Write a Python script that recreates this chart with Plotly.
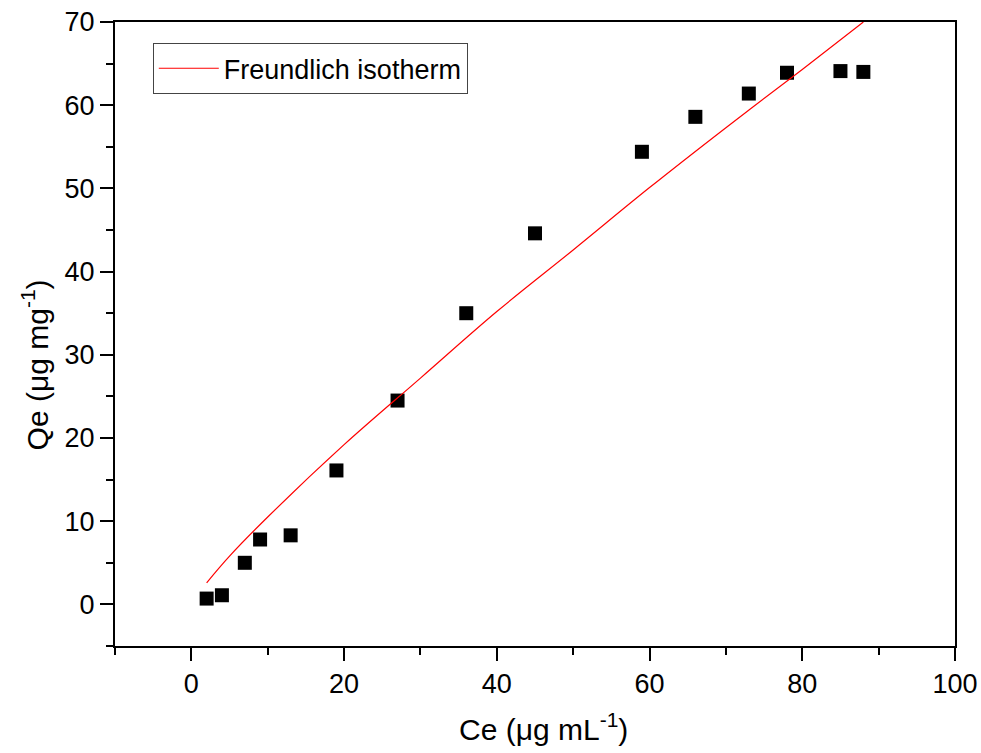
import plotly.graph_objects as go

# Measured equilibrium data
ce = [2, 4, 7, 9, 13, 19, 27, 36, 45, 59, 66, 73, 78, 85, 88]
qe = [0.7, 1.1, 5.0, 7.8, 8.3, 16.1, 24.5, 35.0, 44.6, 54.4, 58.6, 61.4, 63.9, 64.1, 64.0]

# Freundlich isotherm fit curve
fit_ce = [2, 5, 10, 20, 30, 40, 50, 60, 70, 80, 88]
fit_qe = [2.6, 5.8, 10.5, 19.2, 27.2, 35.2, 42.6, 50.1, 57.3, 64.3, 70.0]

FONT = "Arial, Liberation Sans, sans-serif"

fig = go.Figure()
fig.add_trace(go.Scatter(
    x=ce, y=qe, mode="markers", showlegend=False,
    marker=dict(symbol="square", size=14, color="black"),
))
fig.add_trace(go.Scatter(
    x=fit_ce, y=fit_qe, mode="lines", name="Freundlich isotherm",
    line=dict(color="red", width=1.2, shape="spline"),
))

L, R, T, B = 115, 26, 22, 107
fig.update_layout(
    width=981, height=753,
    margin=dict(l=L, r=R, t=T, b=B),
    paper_bgcolor="white", plot_bgcolor="white",
    font=dict(family=FONT, size=26, color="black"),
    legend=dict(
        x=0.045, y=0.966, xanchor="left", yanchor="top",
        bordercolor="#444", borderwidth=1, bgcolor="white",
        font=dict(size=27), itemwidth=60, tracegroupgap=0,
    ),
    xaxis=dict(
        range=[-10, 100], tickvals=[0, 20, 40, 60, 80, 100],
        ticks="outside", ticklen=13, tickwidth=2, tickcolor="black",
        minor=dict(tickvals=[-10, 10, 30, 50, 70, 90], ticks="outside",
                   ticklen=7, tickwidth=2, tickcolor="black"),
        showline=True, linewidth=2, linecolor="black", mirror=True,
        showgrid=False, zeroline=False, tickfont=dict(size=27),
        automargin=False,
    ),
    yaxis=dict(
        range=[-5, 70], tickvals=[0, 10, 20, 30, 40, 50, 60, 70],
        ticks="outside", ticklen=13, tickwidth=2, tickcolor="black",
        minor=dict(tickvals=[-5, 5, 15, 25, 35, 45, 55, 65], ticks="outside",
                   ticklen=7, tickwidth=2, tickcolor="black"),
        showline=True, linewidth=2, linecolor="black", mirror=True,
        showgrid=False, zeroline=False, tickfont=dict(size=27),
        automargin=False,
    ),
    annotations=[
        dict(text="Ce (\u03bcg mL<sup>-1</sup>)", xref="paper", yref="paper",
             x=0.51, y=-0.13, xanchor="center", yanchor="middle",
             showarrow=False, font=dict(size=30)),
        dict(text="Qe (\u03bcg mg<sup>-1</sup>)", xref="paper", yref="paper",
             x=-0.095, y=0.45, xanchor="center", yanchor="middle",
             textangle=-90, showarrow=False, font=dict(size=30)),
    ],
)

fig.write_html("out.html")
